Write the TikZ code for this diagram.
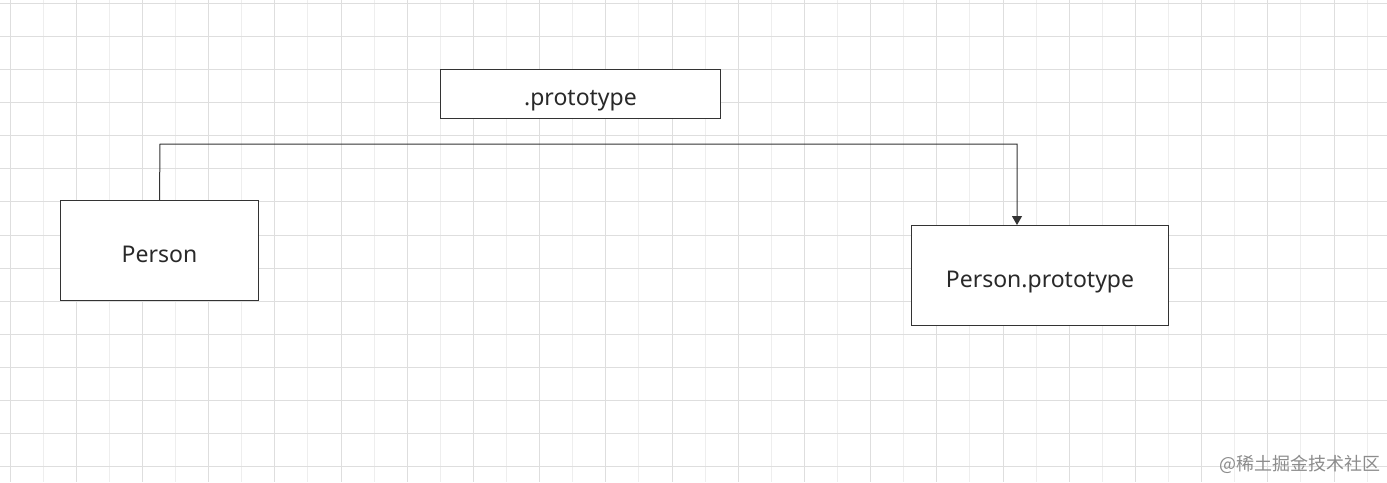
\documentclass[tikz,border=0pt]{standalone}
\usepackage{fontspec}
\setmainfont{Noto Sans}
\newfontfamily\cjk{Noto Sans CJK SC}
\usetikzlibrary{arrows.meta}
\definecolor{gridmajor}{HTML}{DEDEDE}
\definecolor{gridminor}{HTML}{EEEEEE}
\definecolor{ink}{HTML}{333333}
\tikzset{
  box/.style={draw=ink, line width=1pt, fill=white, inner sep=0pt, anchor=north west, font=\fontsize{23}{27}\selectfont, text=ink!80!black, text height=26pt, text depth=2.5pt},
  link/.style={draw=ink, line width=1pt, -{Triangle[length=9pt,width=10pt]}},
}
\begin{document}
\begin{tikzpicture}[x=1pt,y=-1pt]
\useasboundingbox (0,0) rectangle (1387,482);
\fill[white] (0,0) rectangle (1387,482);
% grid
\foreach \i in {0,...,41} {
  \pgfmathsetmacro\xx{10+33.1*\i}
  \ifodd\i
    \draw[gridminor, line width=0.9pt] (\xx,0) -- (\xx,482);
  \else
    \draw[gridmajor, line width=0.9pt] (\xx,0) -- (\xx,482);
  \fi
}
\foreach \j in {0,...,14} {
  \pgfmathsetmacro\yy{3.3+33.1*\j}
  \draw[gridmajor, line width=0.9pt] (0,\yy) -- (1387,\yy);
}
% boxes
\node[box, minimum width=280pt, minimum height=49pt] (proto) at (440,69) {.prototype};
\node[box, minimum width=198pt, minimum height=100pt] (person) at (60,200) {Person};
\node[box, minimum width=257pt, minimum height=100pt] (pp) at (911,225) {Person.prototype};
% connector
\coordinate (c1) at (160,144);
\coordinate (c2) at (1017,144);
\draw[link] (person.north) -- (c1) -- (c2) -- (c2 |- pp.north);
% watermark
\node[anchor=east, text=black!45, font=\cjk\fontsize{18}{21}\selectfont, inner sep=0pt] (wm) at (1381,464) {@稀土掘金技术社区};
\end{tikzpicture}
\end{document}
